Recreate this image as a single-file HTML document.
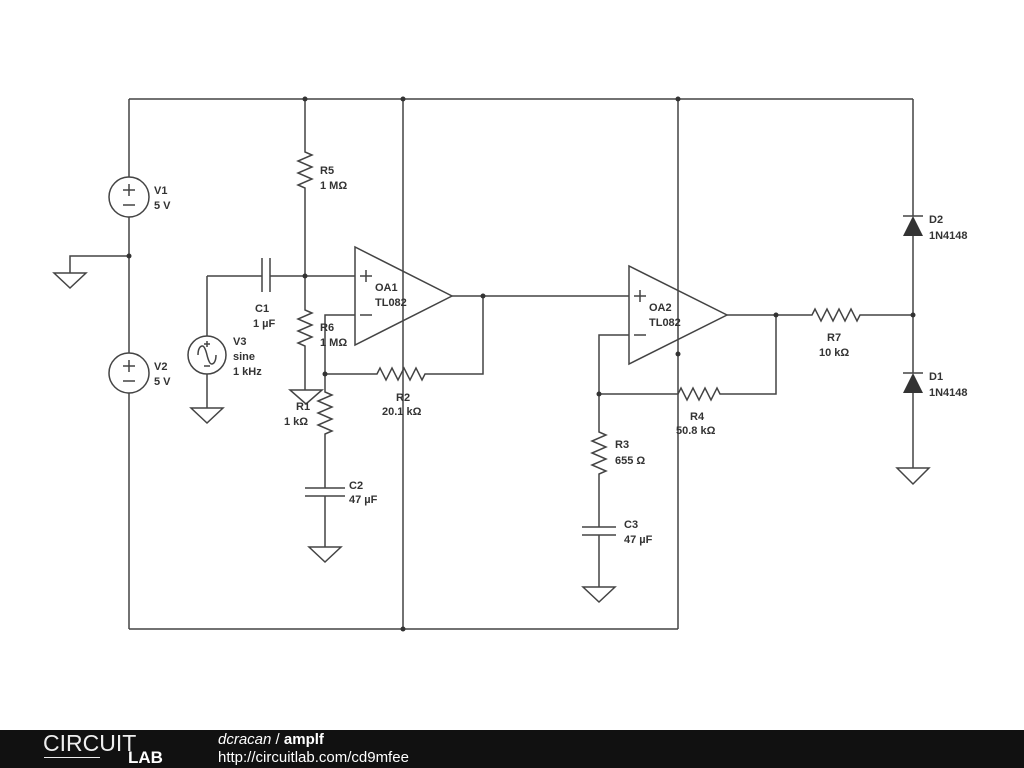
<!DOCTYPE html>
<html><head><style>
body{margin:0;width:1024px;height:768px;background:#fff;overflow:hidden;font-family:"Liberation Sans",sans-serif}
svg{position:absolute;left:0;top:0}
.t{font-family:"Liberation Sans",sans-serif;font-size:11px;font-weight:bold;fill:#333}
#foot{position:absolute;left:0;top:730px;width:1024px;height:38px;background:#111}
</style></head><body>
<svg width="1024" height="768" viewBox="0 0 1024 768">
<g stroke="#444" stroke-width="1.5" fill="none">
<path d="M129 99H913M129 629H678M129 99V177M129 217V353M129 393V629"/>
<path d="M129 256H70V273M54 273H86L70 288Z"/>
<circle cx="129" cy="197" r="20"/><circle cx="129" cy="373" r="20"/>
<path d="M123 190h12M129 184v12M123 205h12M123 366h12M129 360v12M123 381h12"/>
<path d="M305 99V152l7 3-14 6 14 6-14 6 14 6-14 6 7 3V310l7 3-14 6 14 6-14 6 14 6-14 6 7 3V390"/>
<path d="M290 390H322L306 404Z"/>
<path d="M207 276H262M270 276H355M262 258V292M270 258V292M207 276V336M207 374V408M191 408H223L207 423Z"/>
<circle cx="207" cy="355" r="19"/>
<path d="M198 355c0-6 2-9 4.5-9s4.5 9 4.5 9 2 9 4.5 9 4.5-3 4.5-9"/>
<path d="M204 344h6M207 341v6M204 366h6"/>
<path d="M355 247V345L452 296Z"/>
<path d="M360 276h12M366 270v12M360 315h12"/>
<path d="M355 315H325V392l7 3-14 6 14 6-14 6 14 6-14 6 14 6-7 3V488M305 488H345M305 496H345M325 496V547M309 547H341L325 562Z"/>
<path d="M403 99V629"/>
<path d="M452 296H629M483 296V374H425l-3 6-6-12-6 12-6-12-6 12-6-12-6 12-6-12-3 6H325"/>
<path d="M629 266V364L727 315Z"/>
<path d="M634 296h12M640 290v12M634 335h12"/>
<path d="M678 99V629"/>
<path d="M629 335H599V432l7 3-14 6 14 6-14 6 14 6-14 6 14 6-7 3V527M582 527H616M582 535H616M599 535V587M583 587H615L599 602Z"/>
<path d="M727 315H812l3-6 6 12 6-12 6 12 6-12 6 12 6-12 6 12 3-6H913"/>
<path d="M776 315V394H720l-3-6-6 12-6-12-6 12-6-12-6 12-6-12-3 6H599"/>
<path d="M913 99V216M913 236V373M913 393V468M897 468H929L913 484Z"/>
<path d="M903 216H923M903 373H923"/>
</g>
<g fill="#333">
<path d="M903 236H923L913 216Z"/><path d="M903 393H923L913 373Z"/>
<circle cx="305" cy="99" r="2.5"/><circle cx="403" cy="99" r="2.5"/><circle cx="678" cy="99" r="2.5"/>
<circle cx="129" cy="256" r="2.5"/><circle cx="305" cy="276" r="2.5"/><circle cx="483" cy="296" r="2.5"/>
<circle cx="325" cy="374" r="2.5"/><circle cx="403" cy="629" r="2.5"/><circle cx="678" cy="354" r="2.5"/>
<circle cx="776" cy="315" r="2.5"/><circle cx="913" cy="315" r="2.5"/><circle cx="599" cy="394" r="2.5"/>
</g>
<g class="t">
<text x="154" y="194">V1</text><text x="154" y="209">5 V</text>
<text x="154" y="370">V2</text><text x="154" y="385">5 V</text>
<text x="233" y="345">V3</text><text x="233" y="360">sine</text><text x="233" y="375">1 kHz</text>
<text x="320" y="174">R5</text><text x="320" y="189">1 MΩ</text>
<text x="255" y="312">C1</text><text x="253" y="327">1 µF</text>
<text x="320" y="331">R6</text><text x="320" y="346">1 MΩ</text>
<text x="296" y="410">R1</text><text x="284" y="425">1 kΩ</text>
<text x="349" y="489">C2</text><text x="349" y="503">47 µF</text>
<text x="375" y="291">OA1</text><text x="375" y="306">TL082</text>
<text x="396" y="401">R2</text><text x="382" y="415">20.1 kΩ</text>
<text x="649" y="311">OA2</text><text x="649" y="326">TL082</text>
<text x="690" y="420">R4</text><text x="676" y="434">50.8 kΩ</text>
<text x="615" y="448">R3</text><text x="615" y="464">655 Ω</text>
<text x="624" y="528">C3</text><text x="624" y="543">47 µF</text>
<text x="827" y="341">R7</text><text x="819" y="356">10 kΩ</text>
<text x="929" y="223">D2</text><text x="929" y="239">1N4148</text>
<text x="929" y="380">D1</text><text x="929" y="396">1N4148</text>
</g>
</svg>
<div id="foot">
<div style="position:absolute;left:43px;top:1px;color:#eee;font-size:23px;line-height:24px;letter-spacing:0px">CIRCUIT</div>
<div style="position:absolute;left:44px;top:27px;width:56px;height:1px;background:#eee"></div>
<div style="position:absolute;left:128px;top:19px;color:#fff;font-size:17px;font-weight:bold;line-height:18px">LAB</div>
<div style="position:absolute;left:218px;top:1px;color:#fff;font-size:15px;line-height:18px"><i>dcracan</i> / <b>amplf</b></div>
<div style="position:absolute;left:218px;top:19px;color:#fff;font-size:15px;line-height:18px">http://circuitlab.com/cd9mfee</div>
</div>
</body></html>
